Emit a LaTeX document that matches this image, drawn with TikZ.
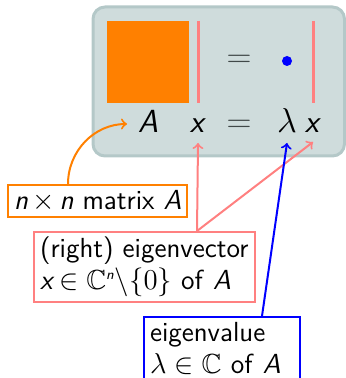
\documentclass[tikz,border=0pt]{standalone}
\usepackage{amssymb}
\definecolor{boxfill}{HTML}{CFDCDC}
\definecolor{boxline}{HTML}{B4C8C8}
\definecolor{pinkc}{HTML}{FF8080}
\definecolor{orangec}{HTML}{FF8000}
\definecolor{eqgray}{HTML}{404848}
\newcommand{\si}[1]{\textsf{\textit{#1}}}
\begin{document}
\begin{tikzpicture}[x=0.5pt,y=-0.5pt,
  txt/.style={font=\fontsize{13.8}{16}\selectfont\sffamily, align=left, inner xsep=3pt, inner ysep=2.5pt, line width=1pt, anchor=north west},
  big/.style={font=\fontsize{16}{19}\selectfont\sffamily, inner sep=0pt, anchor=base},
  bar/.style={draw=pinkc, line width=1.5pt},
  conn/.style={->, line width=1pt}]
\useasboundingbox (0,0) rectangle (346,378);
\draw[fill=boxfill, draw=boxline, line width=1.5pt, rounded corners=6pt] (93,7) rectangle (344.5,156);
\node[fill=orangec, minimum size=41pt, inner sep=0pt] (sq) at (148,62) {};
\coordinate (b1t) at (198,21); \coordinate (b1b) at (198,103);
\draw[bar] (b1t) -- (b1b);
\coordinate (b2t) at (313,21); \coordinate (b2b) at (313,103);
\draw[bar] (b2t) -- (b2b);
\node[big, text=eqgray] (eqt) at (239,68) {$=$};
\node[circle, fill=blue, inner sep=0pt, minimum size=5pt] (dot) at (287,61) {};
\node[big] (A) at (148,133) {\si{A}};
\node[big] (x1) at (198,133) {\si{x}};
\node[big, text=eqgray] (eqb) at (239,133) {$=$};
\node[big] (lam) at (287,133) {$\lambda$};
\node[big] (x2) at (313,133) {\si{x}};
\node[txt, draw=orangec] (ob) at (7,184) {\si{n}\,$\times$\,\si{n} matrix \si{A}};
\node[txt, draw=pinkc] (pb) at (33,231) {(right) eigenvector\\\si{x}\,$\in\mathbb{C}^{\mbox{\scriptsize\si{n}}}\backslash\{0\}$ of \si{A}};
\node[txt, draw=blue, text width=72pt] (bb) at (143,316) {eigenvalue\\$\lambda\in\mathbb{C}$ of \si{A}};
\coordinate (os) at (68,184);
\coordinate (ps) at (197,231);
\coordinate (bs) at (262,316);
\coordinate (pe1) at (198,143);
\coordinate (pe2) at (313,142);
\coordinate (be) at (287,143);
\coordinate (oe) at (127,124);
\draw[conn, orangec] (os) to[out=90, in=180] (oe);
\draw[conn, pinkc] (ps) -- (pe1);
\draw[conn, pinkc] (ps) -- (pe2);
\draw[conn, blue] (bs) -- (be);
\end{tikzpicture}
\end{document}
